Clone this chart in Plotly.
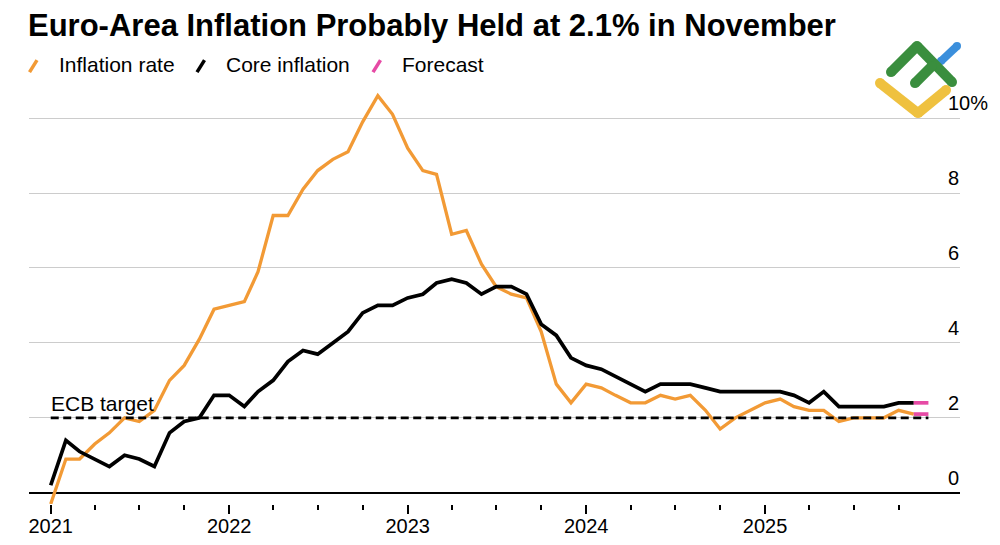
import pandas as pd
import plotly.graph_objects as go

# ---------------- data ----------------
months = pd.period_range("2020-12", "2025-10", freq="M")
headline = [-0.3,
            0.9, 0.9, 1.3, 1.6, 2.0, 1.9, 2.2, 3.0, 3.4, 4.1, 4.9, 5.0,
            5.1, 5.9, 7.4, 7.4, 8.1, 8.6, 8.9, 9.1, 9.9, 10.6, 10.1, 9.2,
            8.6, 8.5, 6.9, 7.0, 6.1, 5.5, 5.3, 5.2, 4.3, 2.9, 2.4, 2.9,
            2.8, 2.6, 2.4, 2.4, 2.6, 2.5, 2.6, 2.2, 1.7, 2.0, 2.2, 2.4,
            2.5, 2.3, 2.2, 2.2, 1.9, 2.0, 2.0, 2.0, 2.2, 2.1]
core = [0.2,
        1.4, 1.1, 0.9, 0.7, 1.0, 0.9, 0.7, 1.6, 1.9, 2.0, 2.6, 2.6,
        2.3, 2.7, 3.0, 3.5, 3.8, 3.7, 4.0, 4.3, 4.8, 5.0, 5.0, 5.2,
        5.3, 5.6, 5.7, 5.6, 5.3, 5.5, 5.5, 5.3, 4.5, 4.2, 3.6, 3.4,
        3.3, 3.1, 2.9, 2.7, 2.9, 2.9, 2.9, 2.8, 2.7, 2.7, 2.7, 2.7,
        2.7, 2.6, 2.4, 2.7, 2.3, 2.3, 2.3, 2.3, 2.4, 2.4]
forecast_month = pd.Period("2025-11", freq="M")
headline_forecast = 2.1
core_forecast = 2.4
ecb_target = 2.0
years = [2021, 2022, 2023, 2024, 2025]
y_ticks = [0, 2, 4, 6, 8, 10]
y_ticktext = ["0", "2", "4", "6", "8", "10%"]
legend_labels = ["Inflation rate", "Core inflation", "Forecast"]
title_text = "Euro-Area Inflation Probably Held at 2.1% in November"

# ---------------- styling ----------------
ORANGE = "#f29a35"
BLACK = "#000000"
PINK = "#e64aa5"
GRID = "#cccccc"
FONT = "Liberation Sans, Arial, Helvetica, sans-serif"

W, H = 1000, 545
ML, MR, MT, MB = 29, 40, 89.9, 41.1
PW, PH = W - ML - MR, H - MT - MB


def px(xp):
    return (xp - ML) / PW


def py(yp):
    return (H - MB - yp) / PH


# values are plotted at month end (start of following month)
x_dates = [(p + 1).start_time for p in months]
x_fc = [x_dates[-1], (forecast_month + 1).start_time]

fig = go.Figure()
fig.add_trace(go.Scatter(x=x_dates, y=headline, mode="lines",
                         line=dict(color=ORANGE, width=3.3), showlegend=False,
                         name=legend_labels[0]))
fig.add_trace(go.Scatter(x=x_dates, y=core, mode="lines",
                         line=dict(color=BLACK, width=3.7), showlegend=False,
                         name=legend_labels[1]))
fig.add_trace(go.Scatter(x=x_fc, y=[headline[-1], headline_forecast], mode="lines",
                         line=dict(color=PINK, width=3.7), showlegend=False,
                         name=legend_labels[2]))
fig.add_trace(go.Scatter(x=x_fc, y=[core[-1], core_forecast], mode="lines",
                         line=dict(color=PINK, width=3.7), showlegend=False,
                         name=legend_labels[2]))
fig.add_trace(go.Scatter(x=[x_dates[0], x_fc[-1]], y=[ecb_target, ecb_target],
                         mode="lines", line=dict(color=BLACK, width=2.8, dash="8px,4.5px"),
                         showlegend=False, name="ECB target"))

year_vals = [pd.Timestamp(f"{y}-01-01") for y in years]
quarter_vals = [pd.Timestamp(f"{y}-{m:02d}-01") for y in years for m in (4, 7, 10)]

fig.update_layout(
    width=W, height=H,
    margin=dict(l=ML, r=MR, t=MT, b=MB, pad=0),
    paper_bgcolor="white", plot_bgcolor="white",
    font=dict(family=FONT, color="#000"),
    title=dict(text=title_text, xref="container", yref="container",
               x=28 / W, xanchor="left", y=1 - 25.5 / H, yanchor="middle",
               font=dict(family=FONT, size=31, color="#000", weight=700)),
    xaxis=dict(type="date", range=["2020-11-17 14:00", "2026-02-03 14:00"],
               tickmode="array", tickvals=year_vals, ticktext=[str(y) for y in years],
               ticks="outside", ticklen=9, tickwidth=2, tickcolor="#000",
               tickfont=dict(size=20, color="#000"), ticklabelstandoff=-5,
               showgrid=False, showline=False, zeroline=False, automargin=False,
               minor=dict(tickmode="array", tickvals=quarter_vals, ticks="outside",
                          ticklen=4.5, tickwidth=2, tickcolor="#000", showgrid=False)),
    yaxis=dict(side="right", range=[-0.3, 10.75], tickmode="array",
               tickvals=y_ticks, ticktext=y_ticktext, ticks="",
               showgrid=True, gridcolor=GRID, gridwidth=1.4,
               zeroline=True, zerolinecolor="#000", zerolinewidth=2,
               showline=False, automargin=False,
               ticklabelposition="outside", ticklabelstandoff=-13, ticklabelshift=-15,
               tickfont=dict(size=20, color="#000")),
)

# ECB target label
fig.add_annotation(x=x_dates[0], y=ecb_target, xref="x", yref="y", text="ECB target",
                   showarrow=False, xanchor="left", yanchor="bottom", xshift=-2, yshift=1,
                   font=dict(size=21, color="#000", family=FONT))

# custom legend with slanted swatches
legend_items = [(legend_labels[0], ORANGE, 29.5, 57), (legend_labels[1], BLACK, 197, 224),
                (legend_labels[2], PINK, 373, 400)]
for label, color, sx, tx in legend_items:
    fig.add_shape(type="line", xref="paper", yref="paper",
                  x0=px(sx), y0=py(72), x1=px(sx + 7.5), y1=py(60),
                  line=dict(color=color, width=3.5))
    fig.add_annotation(xref="paper", yref="paper", x=px(tx), y=py(64),
                       text=label, showarrow=False, xanchor="left", yanchor="middle",
                       font=dict(size=21, color="#000", family=FONT))

# watermark logo (decorative)
def stroke(points, color, width=10):
    for (xa, ya), (xb, yb) in zip(points[:-1], points[1:]):
        fig.add_shape(type="line", xref="paper", yref="paper", layer="above",
                      x0=px(xa), y0=py(ya), x1=px(xb), y1=py(yb),
                      line=dict(color=color, width=width))
    for (xc, yc) in points:
        r = width / 2
        fig.add_shape(type="circle", xref="paper", yref="paper", layer="above",
                      x0=px(xc - r), x1=px(xc + r), y0=py(yc + r), y1=py(yc - r),
                      fillcolor=color, line=dict(width=0))

stroke([(941, 61), (957, 46)], "#3b8fdc", 8)
stroke([(891, 72), (917, 46), (952, 82)], "#3a8e3e", 10)
stroke([(932, 66), (915, 83)], "#3a8e3e", 10)
stroke([(880, 83), (918, 113), (946, 90)], "#efc13f", 10)

fig.write_html("out.html", config={"displayModeBar": False},
               post_script="document.body.style.margin='0px';")
